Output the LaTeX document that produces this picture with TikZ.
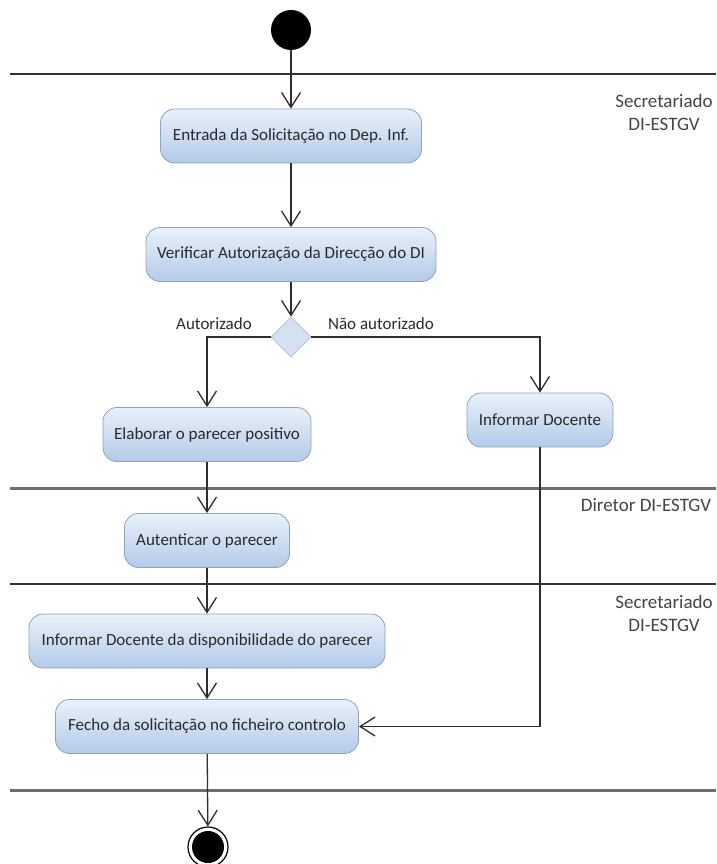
\documentclass[tikz,border=0pt]{standalone}
\usepackage{fontspec}
\setmainfont{Carlito}
\usetikzlibrary{arrows.meta,shapes.geometric}

\definecolor{boxtop}{HTML}{EAF1FA}
\definecolor{boxbot}{HTML}{B3CAE8}
\definecolor{boxline}{HTML}{8AA4C6}
\definecolor{decfill}{HTML}{D3E1F3}
\definecolor{decline}{HTML}{A9BEDB}
\definecolor{flowclr}{HTML}{2E2E2E}
\definecolor{lanedark}{HTML}{333333}
\definecolor{lanegrey}{HTML}{6E6E6E}
\definecolor{txt}{HTML}{2A2A2A}
\definecolor{lanetxt}{HTML}{444444}

\tikzset{
  act/.style={rectangle, rounded corners=14pt, draw=boxline, line width=0.8pt,
    top color=boxtop, bottom color=boxbot, minimum height=54pt,
    inner xsep=0pt, text=txt, font=\fontsize{17}{20}\selectfont},
  decision/.style={diamond, aspect=1, minimum width=40pt, minimum height=40pt,
    inner sep=0pt, fill=decfill, draw=decline, line width=0.8pt},
  flow/.style={draw=flowclr, line width=1.3pt,
    -{Straight Barb[length=15pt,width=19pt,line width=1.3pt]}},
  guard/.style={text=txt, font=\fontsize{17}{20}\selectfont},
  lanelabel/.style={text=lanetxt, align=center, font=\fontsize{19}{23}\selectfont},
  lanedarkline/.style={draw=lanedark, line width=2pt},
  lanegreyline/.style={draw=lanegrey, line width=3pt},
}

\begin{document}
\begin{tikzpicture}[x=1pt,y=-1pt]
\useasboundingbox (0,0) rectangle (716,864);

% swimlane separators
\coordinate (l1a) at (10,74);  \coordinate (l1b) at (716,74);
\coordinate (l2a) at (10,488); \coordinate (l2b) at (716,488);
\coordinate (l3a) at (10,584); \coordinate (l3b) at (716,584);
\coordinate (l4a) at (10,790); \coordinate (l4b) at (716,790);
\draw[lanedarkline] (l1a) -- (l1b);
\draw[lanegreyline] (l2a) -- (l2b);
\draw[lanedarkline] (l3a) -- (l3b);
\draw[lanegreyline] (l4a) -- (l4b);

% lane names
\node[lanelabel] (lane1) at (664,112) {Secretariado\\DI-ESTGV};
\node[lanelabel] (lane2) at (646,505) {Diretor DI-ESTGV};
\node[lanelabel] (lane3) at (664,613) {Secretariado\\DI-ESTGV};

% initial and final states
\node[circle, fill=black, minimum size=40pt, inner sep=0pt] (start) at (291,30) {};
\node[circle, draw=black, line width=1.2pt, fill=white, minimum size=40pt, inner sep=0pt] (final) at (208,847) {};
\node[circle, fill=black, minimum size=32pt, inner sep=0pt] (finalin) at (208,847) {};

% activities
\node[act, minimum width=261pt] (entrada) at (291,136) {Entrada da Solicitação no Dep. Inf.};
\node[act, minimum width=290pt] (verif) at (291,254.5) {Verificar Autorização da Direcção do DI};
\node[decision] (dec) at (291,337) {};
\node[act, minimum width=208pt] (elab) at (207,434.5) {Elaborar o parecer positivo};
\node[act, minimum width=146pt] (infdoc) at (540,420) {Informar Docente};
\node[act, minimum width=165pt] (autent) at (207,540.5) {Autenticar o parecer};
\node[act, minimum width=356pt] (infdisp) at (207,641) {Informar Docente da disponibilidade do parecer};
\node[act, minimum width=303pt] (fecho) at (207,726.5) {Fecho da solicitação no ficheiro controlo};

% guards
\node[guard] (gyes) at (214,324) {Autorizado};
\node[guard] (gno) at (381,324) {Não autorizado};

% control flow
\draw[flow] (start) -- (entrada);
\draw[flow] (entrada) -- (verif);
\draw[flow] (verif) -- (dec);
\draw[flow] (dec.west) -| (elab.north);
\draw[flow] (dec.east) -| (infdoc.north);
\draw[flow] (elab) -- (autent);
\draw[flow] (autent) -- (infdisp);
\draw[flow] (infdisp) -- (fecho);
\draw[flow] (infdoc.south) |- (fecho.east);
\draw[flow] (fecho) -- (final);
\end{tikzpicture}
\end{document}
